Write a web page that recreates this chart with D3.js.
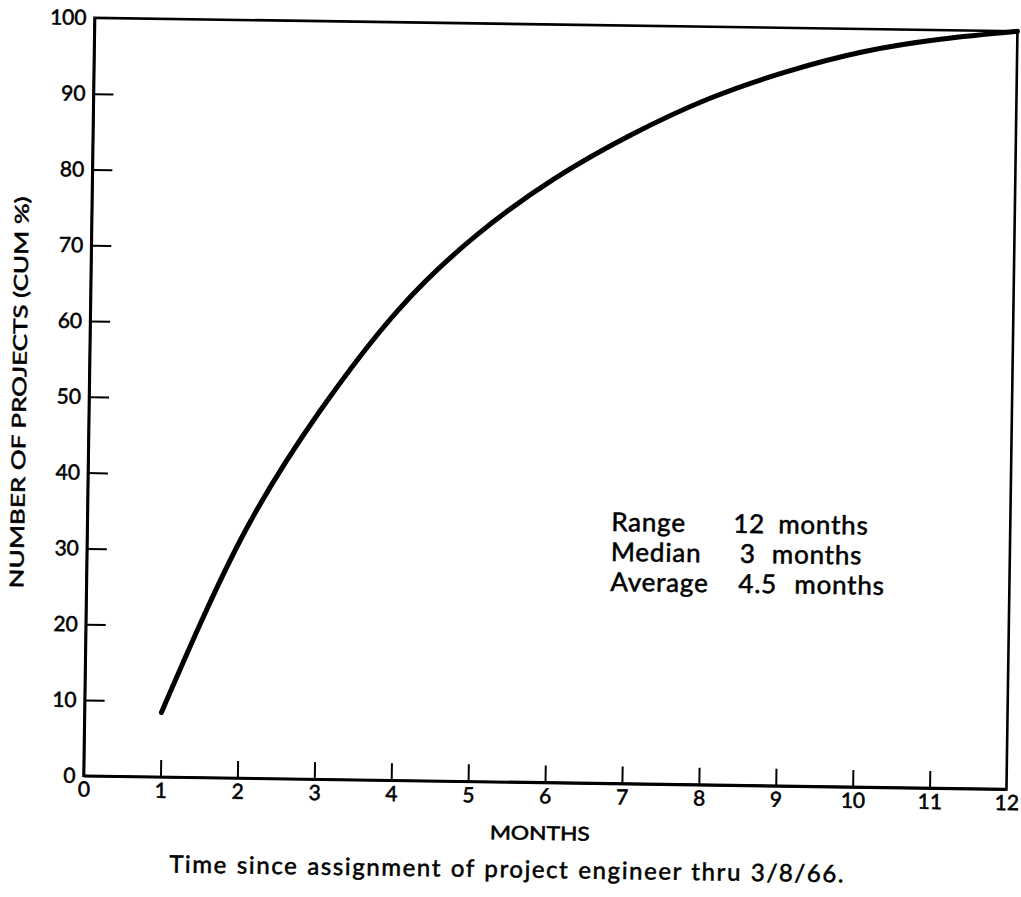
<!DOCTYPE html>
<html>
<head>
<meta charset="utf-8">
<script src="https://cdn.jsdelivr.net/npm/d3@7"></script>
<style>
  html, body { margin: 0; padding: 0; background: #fff; }
  svg { display: block; }
  text { font-family: Lato, "Noto Sans", sans-serif; fill: #000; stroke: #000; stroke-width: 0.55px; }
</style>
</head>
<body>
<svg id="chart" width="1021" height="897"></svg>
<script>
// Cumulative share of projects by months since the project engineer was assigned
const months = [1, 2, 3, 4, 5, 6, 7, 8, 9, 10, 11, 12];
const cumPct = [8.5, 31.5, 48.5, 62, 72, 79.6, 85.6, 90.5, 94.2, 97, 98.8, 100];

const xTicks = [0, 1, 2, 3, 4, 5, 6, 7, 8, 9, 10, 11, 12];
const yTicks = [0, 10, 20, 30, 40, 50, 60, 70, 80, 90, 100];

const statLabels = ["Range", "Median", "Average"];
const statValues = ["12", "3", "4.5"];
const statUnits  = ["months", "months", "months"];

const svg = d3.select("#chart");

const plotLeft = 89, plotRight = 1012, plotTop = 24.5, plotBottom = 782.5;
const x = d3.scaleLinear().domain([0, 12]).range([plotLeft, plotRight]);
const y = d3.scaleLinear().domain([0, 100]).range([plotBottom, plotTop]);

// the printed sheet sits slightly askew
const g = svg.append("g")
  .attr("transform", `rotate(0.83, ${(plotLeft + plotRight) / 2}, ${(plotTop + plotBottom) / 2})`);

// frame
g.append("rect")
  .attr("x", x(0)).attr("y", y(100))
  .attr("width", x(12) - x(0)).attr("height", y(0) - y(100))
  .attr("fill", "none").attr("stroke", "#000").attr("stroke-width", 2.6);

// bottom axis, ticks pointing inward
const xAxis = g.append("g")
  .attr("transform", `translate(0,${plotBottom})`)
  .call(d3.axisBottom(x).tickValues(xTicks).tickSize(-17).tickSizeOuter(0).tickPadding(6));
xAxis.select(".domain").attr("stroke", "#000").attr("stroke-width", 2.6);
xAxis.selectAll(".tick line").attr("stroke", "#000").attr("stroke-width", 2)
  .filter(d => d === 0 || d === 12).remove();
xAxis.selectAll(".tick text").attr("font-size", 21).attr("font-family", null).attr("fill", "#000");

// left axis, ticks pointing inward
const yAxis = g.append("g")
  .attr("transform", `translate(${plotLeft},0)`)
  .call(d3.axisLeft(y).tickValues(yTicks).tickSize(-20).tickSizeOuter(0).tickPadding(8));
yAxis.select(".domain").attr("stroke", "#000").attr("stroke-width", 2.6);
yAxis.selectAll(".tick line").attr("stroke", "#000").attr("stroke-width", 2)
  .filter(d => d === 0 || d === 100).remove();
yAxis.selectAll(".tick text").attr("font-size", 21).attr("font-family", null).attr("fill", "#000");

// cumulative curve
const line = d3.line()
  .x((d, i) => x(months[i]))
  .y(d => y(d))
  .curve(d3.curveNatural);

g.append("path")
  .datum(cumPct)
  .attr("d", line)
  .attr("fill", "none")
  .attr("stroke", "#000")
  .attr("stroke-width", 5)
  .attr("stroke-linecap", "round")
  .attr("stroke-linejoin", "round");

// axis titles
g.append("text")
  .attr("transform", "translate(26,400) rotate(-90)")
  .attr("text-anchor", "middle")
  .attr("font-size", 19)
  .attr("textLength", 392)
  .attr("lengthAdjust", "spacingAndGlyphs")
  .text("NUMBER OF PROJECTS (CUM %)");

g.append("text")
  .attr("x", 546).attr("y", 840)
  .attr("text-anchor", "middle")
  .attr("font-size", 19)
  .attr("textLength", 100)
  .attr("lengthAdjust", "spacingAndGlyphs")
  .text("MONTHS");

// caption: slightly open letters, wide word gaps
const caption = g.append("text")
  .attr("x", 176).attr("y", 878)
  .attr("font-size", 24)
  .attr("letter-spacing", 1.6)
  .text("Time since assignment of project engineer thru 3/8/66.");
const natural = caption.node().getComputedTextLength();
const gaps = caption.text().split(" ").length - 1;
caption.attr("word-spacing", Math.max(0, (676 - natural) / gaps));

// summary statistics
const labelX = 613;
const valueX = [735, 742, 741];
const unitX = [780, 774, 797];
statLabels.forEach((lab, i) => {
  const yy = 530 + i * 30;
  const row = g.append("g").attr("font-size", 26).attr("letter-spacing", 0.8);
  row.append("text").attr("x", labelX).attr("y", yy).text(lab);
  row.append("text").attr("x", valueX[i]).attr("y", yy).text(statValues[i]);
  row.append("text").attr("x", unitX[i]).attr("y", yy).text(statUnits[i]);
});
</script>
</body>
</html>
